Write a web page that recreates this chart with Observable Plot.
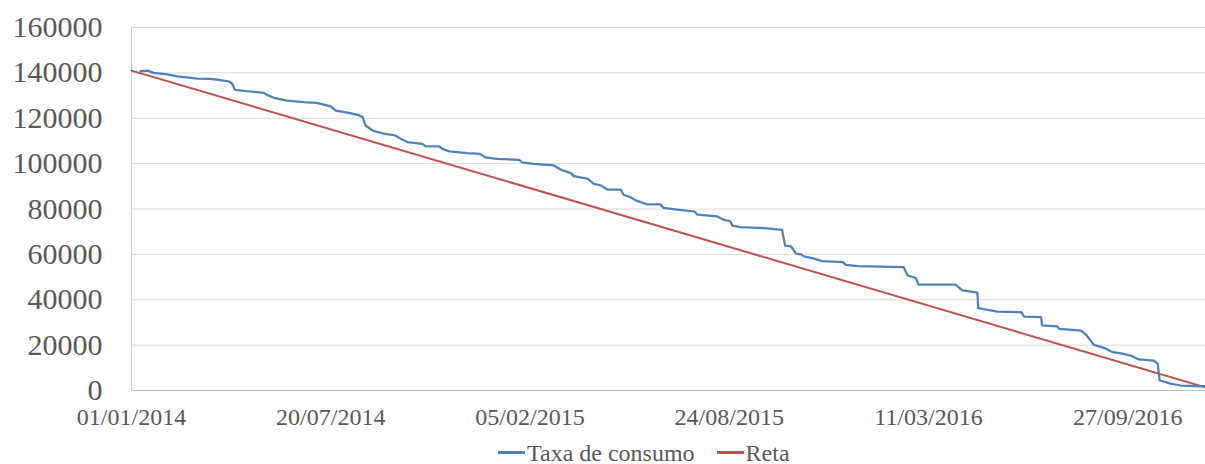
<!DOCTYPE html>
<html>
<head>
<meta charset="utf-8">
<script src="https://cdn.jsdelivr.net/npm/d3@7"></script>
<script src="https://cdn.jsdelivr.net/npm/@observablehq/plot@0.6"></script>
<style>
  html, body { margin: 0; padding: 0; background: #fff; }
  #wrap { position: relative; width: 1205px; height: 464px; overflow: hidden; font-family: "Liberation Serif", "Times New Roman", serif; }
  #legend { position: absolute; left: 498px; top: 433px; height: 26px; font-size: 24px; line-height: 26px; color: #595959; white-space: nowrap; }
  #legend .item { display: inline-flex; align-items: center; height: 26px; }
  #legend .sw { display: inline-block; width: 27px; height: 3px; margin-right: 2px; }
</style>
</head>
<body>
<div id="wrap">
  <div id="chart"></div>
  <div id="legend"></div>
</div>
<script>
// Days counted from 01/01/2014
const inicio = Date.UTC(2014, 0, 1);
const seriesNames = ["Taxa de consumo", "Reta"];
const seriesColors = ["#4F81BD", "#C0504D"];

const consumoDias = [9, 16, 22, 36, 46, 66, 79, 86, 98, 101, 104, 116, 133, 136, 143, 156, 173, 186, 200, 205, 217, 227, 232, 235, 242, 253, 265, 270, 277, 292, 295, 309, 312, 319, 337, 350, 355, 367, 389, 392, 404, 424, 431, 441, 444, 458, 464, 471, 478, 491, 494, 501, 506, 518, 531, 534, 548, 565, 568, 588, 595, 601, 603, 611, 638, 653, 656, 662, 667, 672, 675, 685, 693, 714, 717, 729, 775, 779, 787, 790, 827, 834, 849, 850, 869, 893, 896, 913, 914, 929, 931, 953, 958, 966, 976, 985, 993, 1003, 1011, 1026, 1030, 1032, 1038, 1043, 1053, 1077];
const consumoValores = [140800, 141000, 140000, 139300, 138500, 137500, 137400, 137000, 136200, 135200, 132500, 131900, 131200, 130300, 129000, 127800, 127100, 126800, 125200, 123400, 122500, 121500, 120500, 116800, 114600, 113200, 112400, 111000, 109500, 108700, 107700, 107600, 106500, 105400, 104600, 104300, 102800, 102100, 101700, 100500, 99900, 99200, 97300, 95800, 94500, 93300, 91100, 90400, 88500, 88500, 86300, 85200, 83800, 82000, 82000, 80500, 79700, 78900, 77500, 76700, 75200, 74600, 72700, 72000, 71500, 70800, 63900, 63500, 60300, 60000, 59100, 58100, 57000, 56600, 55400, 54800, 54400, 50700, 49700, 46700, 46700, 44100, 43100, 36300, 34800, 34500, 32600, 32300, 28700, 28300, 27200, 26400, 24700, 20100, 18800, 16900, 16400, 15400, 13700, 13200, 11800, 4400, 3700, 3000, 2200, 1800];

const retaDias = [0, 1078];
const retaValores = [141000, 1400];

const xTickDias = [0, 200, 400, 600, 800, 1000];
const yTicks = [0, 20000, 40000, 60000, 80000, 100000, 120000, 140000, 160000];
const xDomainDias = [0, 1078];

const toDate = d => new Date(inicio + d * 86400000);
const consumo = consumoDias.map((d, i) => ({date: toDate(d), value: consumoValores[i]}));
const reta = retaDias.map((d, i) => ({date: toDate(d), value: retaValores[i]}));
const fmt = d3.utcFormat("%d/%m/%Y");

const chart = Plot.plot({
  width: 1205,
  height: 464,
  marginLeft: 131,
  marginRight: 0,
  marginTop: 27,
  marginBottom: 74,
  style: {fontFamily: "'Liberation Serif', 'Times New Roman', serif", color: "#595959", background: "transparent", overflow: "hidden"},
  x: {type: "utc", domain: xDomainDias.map(toDate)},
  y: {domain: [0, 160000]},
  marks: [
    Plot.ruleY(yTicks.filter(v => v > 0), {stroke: "#d9d9d9", strokeWidth: 1}),
    Plot.ruleX([toDate(0)], {stroke: "#c8c8c8", strokeWidth: 1}),
    Plot.ruleY([0], {stroke: "#bfbfbf", strokeWidth: 1.2}),
    Plot.axisY({ticks: yTicks, tickSize: 0, tickPadding: 29, fontSize: 30, tickFormat: d => String(d), label: null, fill: "#595959"}),
    Plot.axisX({ticks: xTickDias.map(toDate), tickSize: 0, tickPadding: 17, fontSize: 24, tickFormat: fmt, label: null, fill: "#595959"}),
    Plot.line(reta, {x: "date", y: "value", stroke: seriesColors[1], strokeWidth: 2}),
    Plot.line(consumo, {x: "date", y: "value", stroke: seriesColors[0], strokeWidth: 2.25})
  ]
});
document.getElementById("chart").appendChild(chart);

const legend = document.getElementById("legend");
seriesNames.forEach((name, i) => {
  const item = document.createElement("span");
  item.className = "item";
  if (i > 0) item.style.marginLeft = "22px";
  const sw = document.createElement("span");
  sw.className = "sw";
  sw.style.background = seriesColors[i];
  item.appendChild(sw);
  item.appendChild(document.createTextNode(name));
  legend.appendChild(item);
});
</script>
</body>
</html>
